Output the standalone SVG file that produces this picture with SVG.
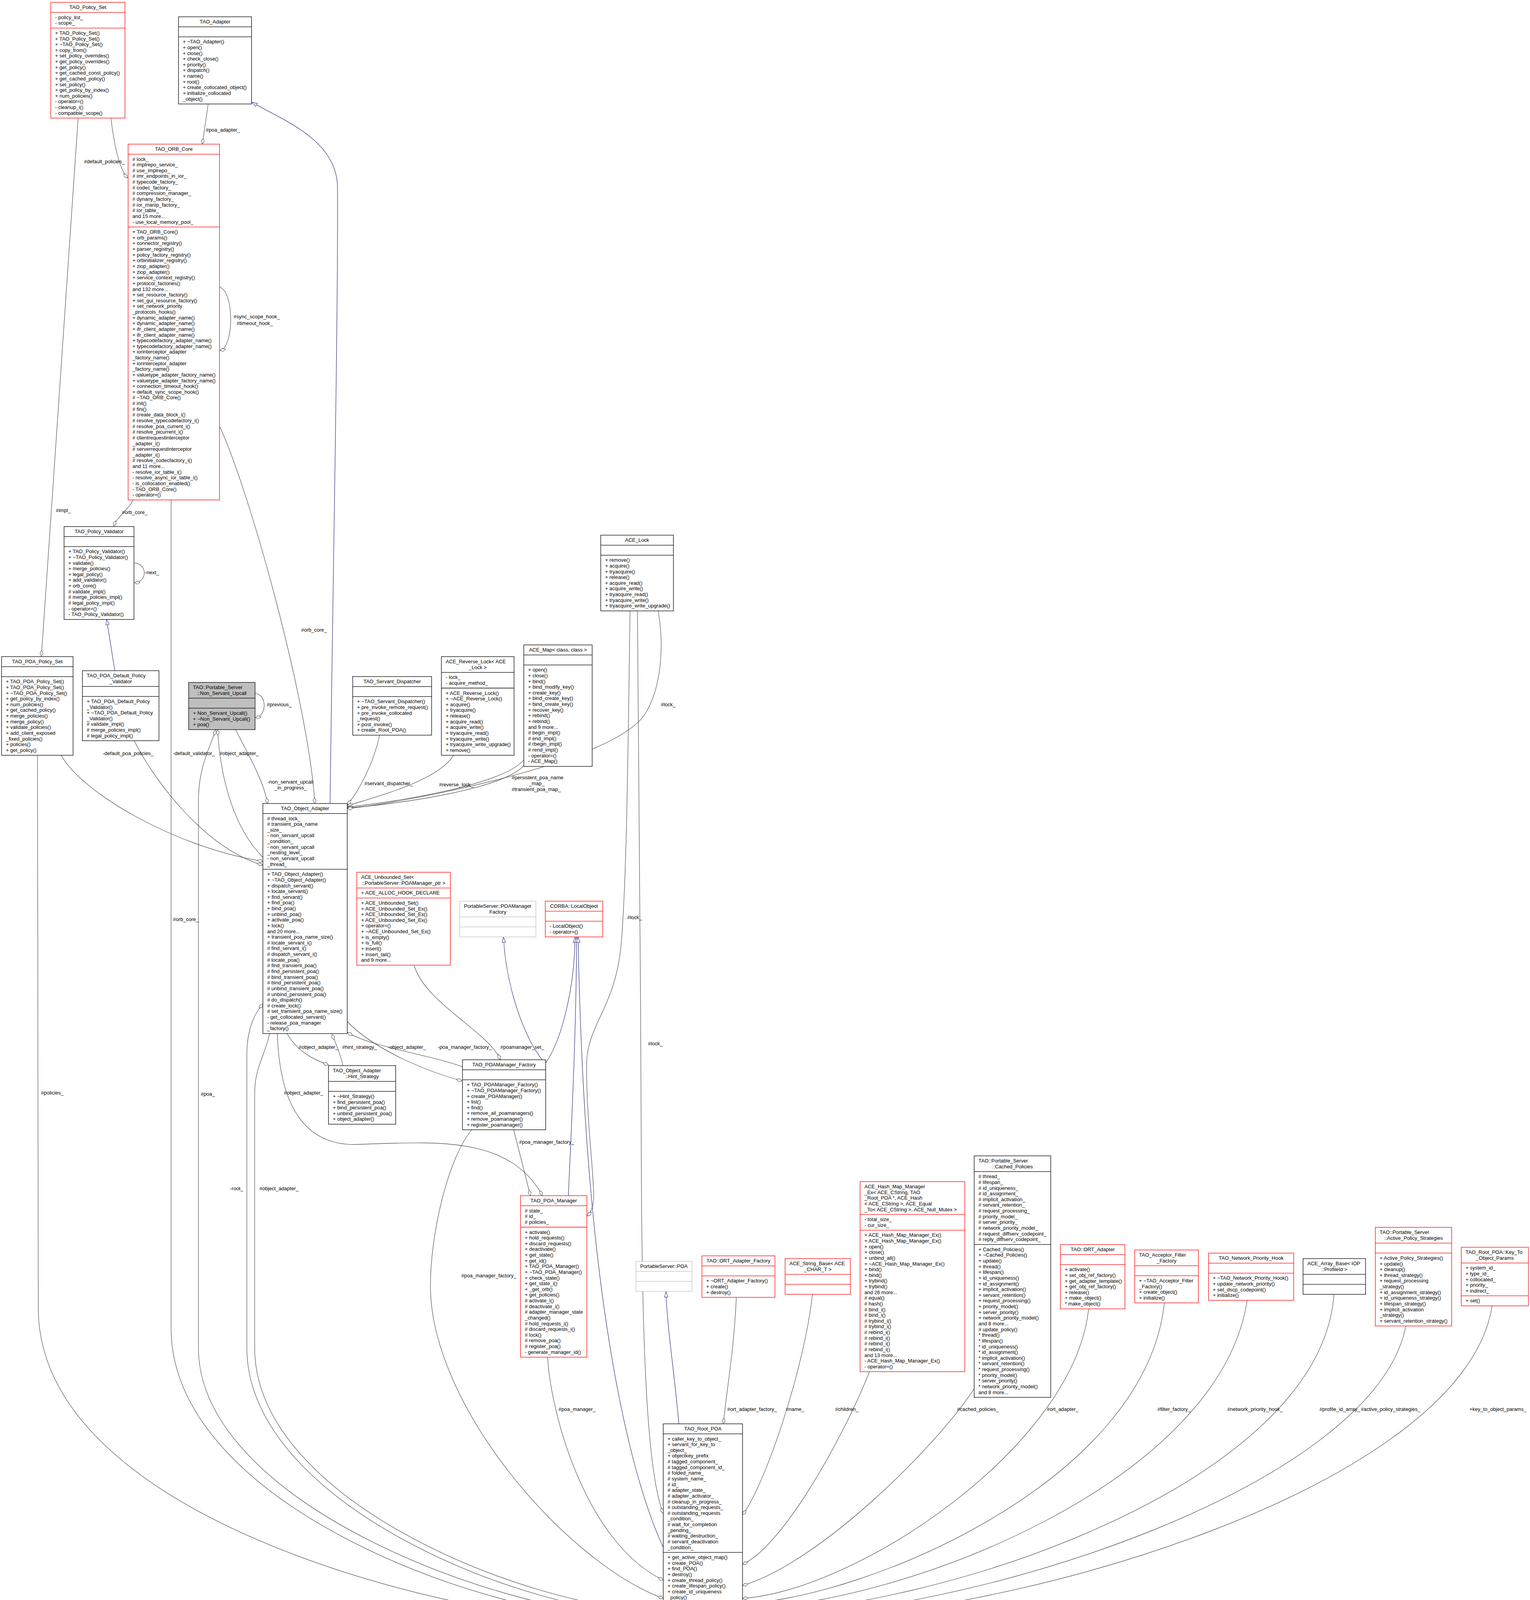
<svg xmlns="http://www.w3.org/2000/svg" width="3917" height="4680" viewBox="0 0 3917 4680">
<style>
text{font-family:"Liberation Sans",Arial,Helvetica,sans-serif;font-size:13px;fill:#000}
.c{text-anchor:middle}
.box{fill:#fff;stroke:#000;stroke-width:1.3}
.red .box{stroke:#ff0000}
.gray .box{stroke:#bfbfbf}
.gfill .box{fill:#bfbfbf}
.sep{fill:none;stroke:#000;stroke-width:1.3}
.red .sep{stroke:#ff0000}
.gray .sep{stroke:#bfbfbf}
.e{fill:none;stroke:#404040;stroke-width:1.1;marker-end:url(#dm)}
.i{fill:none;stroke:#191970;stroke-width:1.1;marker-end:url(#tri)}
</style>
<defs>
<marker id="dm" viewBox="0 0 16 10" markerWidth="16" markerHeight="10" refX="15.5" refY="5" orient="auto" markerUnits="userSpaceOnUse"><path d="M0.5,5 L8,1 L15.5,5 L8,9 Z" fill="#fff" stroke="#404040" stroke-width="1"/></marker>
<marker id="tri" viewBox="0 0 15 10" markerWidth="15" markerHeight="10" refX="14" refY="5" orient="auto" markerUnits="userSpaceOnUse"><path d="M0.5,0.5 L14,5 L0.5,9.5 Z" fill="#fff" stroke="#191970" stroke-width="1"/></marker>
</defs>
<rect width="3917" height="4680" fill="#fff"/>

<g id="edges">
<path class="e" d="M284 302 C292 370 305 430 326 456"/>
<path class="e" d="M200 302 L106 1680"/>
<path class="e" d="M533 266 L518 369"/>
<path class="i" d="M845 2057 C852 1500 866 800 864 480 C863 360 730 310 645 262"/>
<path class="e" d="M562 735 C600 745 600 890 563 897"/>
<path class="e" d="M340 1280 C332 1302 300 1322 291 1347"/>
<path class="e" d="M563 1093 C640 1260 790 1800 806 2057"/>
<path class="e" d="M438 1280 L438 3400 C438 3850 1250 4155 1698 4155"/>
<path class="e" d="M343 1441 C378 1443 378 1490 344 1492"/>
<path class="i" d="M294 1717 L273 1586"/>
<path class="e" d="M157 1934 C210 2030 450 2170 673 2205"/>
<path class="e" d="M344 1897 C390 1990 520 2170 673 2215"/>
<path class="e" d="M673 2195 C600 2120 565 2000 557 1868"/>
<path class="e" d="M603 1868 C640 1940 675 2000 685 2057"/>
<path class="e" d="M653 1775 C684 1778 684 1833 654 1837"/>
<path class="e" d="M1698 4145 C1300 4145 508 3850 508 3450 L508 2050 C508 1960 540 1910 552 1868"/>
<path class="e" d="M972 1882 C955 1960 915 2030 889 2060"/>
<path class="e" d="M1161 1934 C1120 2000 960 2040 889 2063"/>
<path class="e" d="M1341 1945 C1290 2010 1000 2055 889 2066"/>
<path class="e" d="M1345 1955 C1300 2020 1010 2060 889 2068"/>
<path class="e" d="M1685 1564 C1700 1650 1695 1760 1650 1830 C1560 1960 1000 2060 889 2070"/>
<path class="e" d="M1613 1564 C1608 1900 1605 2250 1590 2420 C1575 2580 1505 2620 1502 2720 C1500 2850 1520 3000 1520 3060 C1520 3090 1512 3105 1503 3113"/>
<path class="e" d="M1632 1564 C1636 1900 1640 2500 1642 3000 C1644 3500 1660 3780 1698 3874"/>
<path class="e" d="M1060 2471 C1090 2570 1250 2640 1281 2713"/>
<path class="i" d="M1397 2724 C1340 2660 1295 2520 1289 2399"/>
<path class="i" d="M1397 2721 C1440 2660 1472 2520 1472 2399"/>
<path class="i" d="M1455 3061 C1465 2850 1476 2600 1476 2399"/>
<path class="i" d="M1698 3961 C1660 3880 1500 3500 1480 2399"/>
<path class="e" d="M1184 2731 C1100 2700 950 2680 890 2643"/>
<path class="e" d="M889 2615 C960 2690 1100 2745 1183 2767"/>
<path class="e" d="M878 2728 C872 2700 860 2672 850 2648"/>
<path class="e" d="M735 2646 C760 2690 800 2712 841 2726"/>
<path class="e" d="M710 2646 C715 2800 760 2925 900 2930 C1100 2925 1300 2900 1389 3061"/>
<path class="e" d="M1315 2892 L1358 3061"/>
<path class="e" d="M1208 2892 C1150 2960 1102 3150 1102 3292 C1102 3600 1450 4000 1698 4092"/>
<path class="e" d="M1698 4135 C1350 4135 632 3850 632 3450 L632 2700 C632 2630 655 2590 673 2570"/>
<path class="e" d="M690 2646 C680 2700 652 2730 652 2800 L652 3450 C652 3850 1380 4125 1698 4125"/>
<path class="e" d="M96 1934 L98 3350 C100 3900 1200 4165 1698 4165"/>
<path class="e" d="M1402 3475 C1410 3620 1500 3950 1698 4045"/>
<path class="i" d="M1738 3645 C1725 3500 1708 3400 1705 3307"/>
<path class="e" d="M1885 3321 C1880 3450 1860 3560 1852 3645"/>
<path class="e" d="M2080 3313 C2060 3500 1960 3800 1901 3878"/>
<path class="e" d="M2226 3512 C2150 3700 2000 3960 1901 4005"/>
<path class="e" d="M2494 3555 C2400 3700 2100 4000 1901 4059"/>
<path class="e" d="M2787 3351 C2750 3700 2200 4070 1901 4092"/>
<path class="e" d="M2981 3336 C2930 3800 2200 4095 1901 4105"/>
<path class="e" d="M3193 3329 C3120 3800 2300 4110 1901 4118"/>
<path class="e" d="M3415 3314 C3380 3800 2400 4125 1901 4131"/>
<path class="e" d="M3599 3395 C3520 3800 2500 4140 1901 4144"/>
<path class="e" d="M3820 3343 C3750 3800 2600 4155 1901 4157"/>
<text x="215" y="418">#default_policies_</text>
<text x="143" y="1311">#impl_</text>
<text x="527" y="337">#poa_adapter_</text>
<text x="598" y="815">#sync_scope_hook_<tspan x="606" dy="17">#timeout_hook_</tspan></text>
<text x="312" y="1316">#orb_core_</text>
<text x="371" y="1470">-next_</text>
<text x="771" y="1617">#orb_core_</text>
<text x="443" y="2358">#orb_core_</text>
<text x="683" y="1808">#previous_</text>
<text x="263" y="1933">-default_poa_policies_</text>
<text x="443" y="1933">-default_validator_</text>
<text x="562" y="1933">#object_adapter_</text>
<text x="685" y="2006">-non_servant_upcall<tspan x="703" dy="15">_in_progress_</tspan></text>
<text x="933" y="2010">#servant_dispatcher_</text>
<text x="1124" y="2013">#reverse_lock_</text>
<text x="1310" y="1995">#persistent_poa_name<tspan x="1354" dy="15">_map_</tspan><tspan x="1310" dy="15">#transient_poa_map_</tspan></text>
<text x="1692" y="1808">#lock_</text>
<text x="1606" y="2353">#lock_</text>
<text x="1659" y="2676">#lock_</text>
<text x="105" y="2802">#policies_</text>
<text x="514" y="2805">#poa_</text>
<text x="727" y="2802">#object_adapter_</text>
<text x="765" y="2685">#object_adapter_</text>
<text x="876" y="2685">#hint_strategy_</text>
<text x="993" y="2685">-object_adapter_</text>
<text x="1121" y="2685">-poa_manager_factory_</text>
<text x="1281" y="2685">#poamanager_set_</text>
<text x="1329" y="2928">#poa_manager_factory_</text>
<text x="1181" y="3270">#poa_manager_factory_</text>
<text x="589" y="3047">-root_</text>
<text x="664" y="3047">#object_adapter_</text>
<text x="1430" y="3612">#poa_manager_</text>
<text x="1862" y="3612">#ort_adapter_factory_</text>
<text x="2012" y="3612">#name_</text>
<text x="2138" y="3612">#children_</text>
<text x="2450" y="3612">#cached_policies_</text>
<text x="2680" y="3612">#ort_adapter_</text>
<text x="2963" y="3612">#filter_factory_</text>
<text x="3142" y="3612">#network_priority_hook_</text>
<text x="3378" y="3612">#profile_id_array_</text>
<text x="3484" y="3612">#active_policy_strategies_</text>
<text x="3762" y="3612">+key_to_object_params_</text>
</g>

<g id="TAO_Policy_Set" class="red">
<rect class="box" x="130" y="6" width="190" height="296.3"/>
<path class="sep" d="M130 31.6H320M130 71.9H320"/>
<text class="c" x="225" y="23">TAO_Policy_Set</text>
<text x="141" y="48.6">- policy_list_<tspan x="141" dy="14.63">- scope_</tspan></text>
<text x="141" y="88.9">+ TAO_Policy_Set()<tspan x="141" dy="14.63">+ TAO_Policy_Set()</tspan><tspan x="141" dy="14.63">+ ~TAO_Policy_Set()</tspan><tspan x="141" dy="14.63">+ copy_from()</tspan><tspan x="141" dy="14.63">+ set_policy_overrides()</tspan><tspan x="141" dy="14.63">+ get_policy_overrides()</tspan><tspan x="141" dy="14.63">+ get_policy()</tspan><tspan x="141" dy="14.63">+ get_cached_const_policy()</tspan><tspan x="141" dy="14.63">+ get_cached_policy()</tspan><tspan x="141" dy="14.63">+ set_policy()</tspan><tspan x="141" dy="14.63">+ get_policy_by_index()</tspan><tspan x="141" dy="14.63">+ num_policies()</tspan><tspan x="141" dy="14.63">- operator=()</tspan><tspan x="141" dy="14.63">- cleanup_i()</tspan><tspan x="141" dy="14.63">- compatible_scope()</tspan></text>
</g>

<g id="TAO_Adapter">
<rect class="box" x="457" y="43" width="187" height="223.2"/>
<path class="sep" d="M457 68.6H644M457 94.3H644"/>
<text class="c" x="550.5" y="60">TAO_Adapter</text>
<text x="468" y="111.3">+ ~TAO_Adapter()<tspan x="468" dy="14.63">+ open()</tspan><tspan x="468" dy="14.63">+ close()</tspan><tspan x="468" dy="14.63">+ check_close()</tspan><tspan x="468" dy="14.63">+ priority()</tspan><tspan x="468" dy="14.63">+ dispatch()</tspan><tspan x="468" dy="14.63">+ name()</tspan><tspan x="468" dy="14.63">+ root()</tspan><tspan x="468" dy="14.63">+ create_collocated_object()</tspan><tspan x="468" dy="14.63">+ initialize_collocated</tspan><tspan x="468" dy="14.63">_object()</tspan></text>
</g>

<g id="TAO_ORB_Core" class="red">
<rect class="box" x="328" y="369" width="234" height="910.8"/>
<path class="sep" d="M328 394.6H562M328 581.2H562"/>
<text class="c" x="445" y="386">TAO_ORB_Core</text>
<text x="339" y="411.6"># lock_<tspan x="339" dy="14.63"># implrepo_service_</tspan><tspan x="339" dy="14.63"># use_implrepo_</tspan><tspan x="339" dy="14.63"># imr_endpoints_in_ior_</tspan><tspan x="339" dy="14.63"># typecode_factory_</tspan><tspan x="339" dy="14.63"># codec_factory_</tspan><tspan x="339" dy="14.63"># compression_manager_</tspan><tspan x="339" dy="14.63"># dynany_factory_</tspan><tspan x="339" dy="14.63"># ior_manip_factory_</tspan><tspan x="339" dy="14.63"># ior_table_</tspan><tspan x="339" dy="14.63">and 15 more...</tspan><tspan x="339" dy="14.63">- use_local_memory_pool_</tspan></text>
<text x="339" y="598.2">+ TAO_ORB_Core()<tspan x="339" dy="14.63">+ orb_params()</tspan><tspan x="339" dy="14.63">+ connector_registry()</tspan><tspan x="339" dy="14.63">+ parser_registry()</tspan><tspan x="339" dy="14.63">+ policy_factory_registry()</tspan><tspan x="339" dy="14.63">+ orbinitializer_registry()</tspan><tspan x="339" dy="14.63">+ ziop_adapter()</tspan><tspan x="339" dy="14.63">+ ziop_adapter()</tspan><tspan x="339" dy="14.63">+ service_context_registry()</tspan><tspan x="339" dy="14.63">+ protocol_factories()</tspan><tspan x="339" dy="14.63">and 132 more...</tspan><tspan x="339" dy="14.63">+ set_resource_factory()</tspan><tspan x="339" dy="14.63">+ set_gui_resource_factory()</tspan><tspan x="339" dy="14.63">+ set_network_priority</tspan><tspan x="339" dy="14.63">_protocols_hooks()</tspan><tspan x="339" dy="14.63">+ dynamic_adapter_name()</tspan><tspan x="339" dy="14.63">+ dynamic_adapter_name()</tspan><tspan x="339" dy="14.63">+ ifr_client_adapter_name()</tspan><tspan x="339" dy="14.63">+ ifr_client_adapter_name()</tspan><tspan x="339" dy="14.63">+ typecodefactory_adapter_name()</tspan><tspan x="339" dy="14.63">+ typecodefactory_adapter_name()</tspan><tspan x="339" dy="14.63">+ iorinterceptor_adapter</tspan><tspan x="339" dy="14.63">_factory_name()</tspan><tspan x="339" dy="14.63">+ iorinterceptor_adapter</tspan><tspan x="339" dy="14.63">_factory_name()</tspan><tspan x="339" dy="14.63">+ valuetype_adapter_factory_name()</tspan><tspan x="339" dy="14.63">+ valuetype_adapter_factory_name()</tspan><tspan x="339" dy="14.63">+ connection_timeout_hook()</tspan><tspan x="339" dy="14.63">+ default_sync_scope_hook()</tspan><tspan x="339" dy="14.63"># ~TAO_ORB_Core()</tspan><tspan x="339" dy="14.63"># init()</tspan><tspan x="339" dy="14.63"># fini()</tspan><tspan x="339" dy="14.63"># create_data_block_i()</tspan><tspan x="339" dy="14.63"># resolve_typecodefactory_i()</tspan><tspan x="339" dy="14.63"># resolve_poa_current_i()</tspan><tspan x="339" dy="14.63"># resolve_picurrent_i()</tspan><tspan x="339" dy="14.63"># clientrequestinterceptor</tspan><tspan x="339" dy="14.63">_adapter_i()</tspan><tspan x="339" dy="14.63"># serverrequestinterceptor</tspan><tspan x="339" dy="14.63">_adapter_i()</tspan><tspan x="339" dy="14.63"># resolve_codecfactory_i()</tspan><tspan x="339" dy="14.63">and 11 more...</tspan><tspan x="339" dy="14.63">- resolve_ior_table_i()</tspan><tspan x="339" dy="14.63">- resolve_async_ior_table_i()</tspan><tspan x="339" dy="14.63">- is_collocation_enabled()</tspan><tspan x="339" dy="14.63">- TAO_ORB_Core()</tspan><tspan x="339" dy="14.63">- operator=()</tspan></text>
</g>

<g id="TAO_Policy_Validator">
<rect class="box" x="164" y="1348" width="179" height="237.8"/>
<path class="sep" d="M164 1373.6H343M164 1399.3H343"/>
<text class="c" x="253.5" y="1365">TAO_Policy_Validator</text>
<text x="175" y="1416.3">+ TAO_Policy_Validator()<tspan x="175" dy="14.63">+ ~TAO_Policy_Validator()</tspan><tspan x="175" dy="14.63">+ validate()</tspan><tspan x="175" dy="14.63">+ merge_policies()</tspan><tspan x="175" dy="14.63">+ legal_policy()</tspan><tspan x="175" dy="14.63">+ add_validator()</tspan><tspan x="175" dy="14.63">+ orb_core()</tspan><tspan x="175" dy="14.63"># validate_impl()</tspan><tspan x="175" dy="14.63"># merge_policies_impl()</tspan><tspan x="175" dy="14.63"># legal_policy_impl()</tspan><tspan x="175" dy="14.63">- operator=()</tspan><tspan x="175" dy="14.63">- TAO_Policy_Validator()</tspan></text>
</g>

<g id="TAO_POA_Policy_Set">
<rect class="box" x="4" y="1681" width="183" height="252.5"/>
<path class="sep" d="M4 1706.6H187M4 1732.3H187"/>
<text class="c" x="95.5" y="1698">TAO_POA_Policy_Set</text>
<text x="15" y="1749.3">+ TAO_POA_Policy_Set()<tspan x="15" dy="14.63">+ TAO_POA_Policy_Set()</tspan><tspan x="15" dy="14.63">+ ~TAO_POA_Policy_Set()</tspan><tspan x="15" dy="14.63">+ get_policy_by_index()</tspan><tspan x="15" dy="14.63">+ num_policies()</tspan><tspan x="15" dy="14.63">+ get_cached_policy()</tspan><tspan x="15" dy="14.63">+ merge_policies()</tspan><tspan x="15" dy="14.63">+ merge_policy()</tspan><tspan x="15" dy="14.63">+ validate_policies()</tspan><tspan x="15" dy="14.63">+ add_client_exposed</tspan><tspan x="15" dy="14.63">_fixed_policies()</tspan><tspan x="15" dy="14.63">+ policies()</tspan><tspan x="15" dy="14.63">+ get_policy()</tspan></text>
</g>

<g id="TAO_POA_Default_Policy_Validator">
<rect class="box" x="211" y="1717" width="196" height="179.3"/>
<path class="sep" d="M211 1757.3H407M211 1782.9H407"/>
<text x="222" y="1734">TAO_POA_Default_Policy</text>
<text class="c" x="309" y="1748.6">_Validator</text>
<text x="222" y="1799.9">+ TAO_POA_Default_Policy<tspan x="222" dy="14.63">_Validator()</tspan><tspan x="222" dy="14.63">+ ~TAO_POA_Default_Policy</tspan><tspan x="222" dy="14.63">_Validator()</tspan><tspan x="222" dy="14.63"># validate_impl()</tspan><tspan x="222" dy="14.63"># merge_policies_impl()</tspan><tspan x="222" dy="14.63"># legal_policy_impl()</tspan></text>
</g>

<g id="Non_Servant_Upcall" class="gfill">
<rect class="box" x="483" y="1747" width="170" height="120.8"/>
<path class="sep" d="M483 1787.3H653M483 1812.9H653"/>
<text x="494" y="1764">TAO::Portable_Server</text>
<text class="c" x="568" y="1778.6">::Non_Servant_Upcall</text>
<text x="494" y="1829.9">+ Non_Servant_Upcall()<tspan x="494" dy="14.63">+ ~Non_Servant_Upcall()</tspan><tspan x="494" dy="14.63">+ poa()</tspan></text>
</g>

<g id="TAO_Servant_Dispatcher">
<rect class="box" x="903" y="1732" width="202" height="150"/>
<path class="sep" d="M903 1757.6H1105M903 1783.3H1105"/>
<text class="c" x="1004" y="1749">TAO_Servant_Dispatcher</text>
<text x="914" y="1800.3">+ ~TAO_Servant_Dispatcher()<tspan x="914" dy="14.63">+ pre_invoke_remote_request()</tspan><tspan x="914" dy="14.63">+ pre_invoke_collocated</tspan><tspan x="914" dy="14.63">_request()</tspan><tspan x="914" dy="14.63">+ post_invoke()</tspan><tspan x="914" dy="14.63">+ create_Root_POA()</tspan></text>
</g>

<g id="ACE_Reverse_Lock">
<rect class="box" x="1130" y="1681" width="186" height="252.5"/>
<path class="sep" d="M1130 1721.3H1316M1130 1761.5H1316"/>
<text x="1141" y="1698">ACE_Reverse_Lock&lt; ACE</text>
<text class="c" x="1223" y="1712.6">_Lock &gt;</text>
<text x="1141" y="1738.3">- lock_<tspan x="1141" dy="14.63">- acquire_method_</tspan></text>
<text x="1141" y="1778.5">+ ACE_Reverse_Lock()<tspan x="1141" dy="14.63">+ ~ACE_Reverse_Lock()</tspan><tspan x="1141" dy="14.63">+ acquire()</tspan><tspan x="1141" dy="14.63">+ tryacquire()</tspan><tspan x="1141" dy="14.63">+ release()</tspan><tspan x="1141" dy="14.63">+ acquire_read()</tspan><tspan x="1141" dy="14.63">+ acquire_write()</tspan><tspan x="1141" dy="14.63">+ tryacquire_read()</tspan><tspan x="1141" dy="14.63">+ tryacquire_write()</tspan><tspan x="1141" dy="14.63">+ tryacquire_write_upgrade()</tspan><tspan x="1141" dy="14.63">+ remove()</tspan></text>
</g>

<g id="ACE_Map">
<rect class="box" x="1341" y="1651" width="175" height="311"/>
<path class="sep" d="M1341 1676.6H1516M1341 1702.3H1516"/>
<text class="c" x="1428.5" y="1668">ACE_Map&lt; class, class &gt;</text>
<text x="1352" y="1719.3">+ open()<tspan x="1352" dy="14.63">+ close()</tspan><tspan x="1352" dy="14.63">+ bind()</tspan><tspan x="1352" dy="14.63">+ bind_modify_key()</tspan><tspan x="1352" dy="14.63">+ create_key()</tspan><tspan x="1352" dy="14.63">+ bind_create_key()</tspan><tspan x="1352" dy="14.63">+ bind_create_key()</tspan><tspan x="1352" dy="14.63">+ recover_key()</tspan><tspan x="1352" dy="14.63">+ rebind()</tspan><tspan x="1352" dy="14.63">+ rebind()</tspan><tspan x="1352" dy="14.63">and 9 more...</tspan><tspan x="1352" dy="14.63"># begin_impl()</tspan><tspan x="1352" dy="14.63"># end_impl()</tspan><tspan x="1352" dy="14.63"># rbegin_impl()</tspan><tspan x="1352" dy="14.63"># rend_impl()</tspan><tspan x="1352" dy="14.63">- operator=()</tspan><tspan x="1352" dy="14.63">- ACE_Map()</tspan></text>
</g>

<g id="ACE_Lock">
<rect class="box" x="1538" y="1370" width="186" height="193.9"/>
<path class="sep" d="M1538 1395.6H1724M1538 1421.3H1724"/>
<text class="c" x="1631" y="1387">ACE_Lock</text>
<text x="1549" y="1438.3">+ remove()<tspan x="1549" dy="14.63">+ acquire()</tspan><tspan x="1549" dy="14.63">+ tryacquire()</tspan><tspan x="1549" dy="14.63">+ release()</tspan><tspan x="1549" dy="14.63">+ acquire_read()</tspan><tspan x="1549" dy="14.63">+ acquire_write()</tspan><tspan x="1549" dy="14.63">+ tryacquire_read()</tspan><tspan x="1549" dy="14.63">+ tryacquire_write()</tspan><tspan x="1549" dy="14.63">+ tryacquire_write_upgrade()</tspan></text>
</g>

<g id="TAO_Object_Adapter">
<rect class="box" x="673" y="2057" width="216" height="588.9"/>
<path class="sep" d="M673 2082.6H889M673 2225.3H889"/>
<text class="c" x="781" y="2074">TAO_Object_Adapter</text>
<text x="684" y="2099.6"># thread_lock_<tspan x="684" dy="14.63"># transient_poa_name</tspan><tspan x="684" dy="14.63">_size_</tspan><tspan x="684" dy="14.63">- non_servant_upcall</tspan><tspan x="684" dy="14.63">_condition_</tspan><tspan x="684" dy="14.63">- non_servant_upcall</tspan><tspan x="684" dy="14.63">_nesting_level_</tspan><tspan x="684" dy="14.63">- non_servant_upcall</tspan><tspan x="684" dy="14.63">_thread_</tspan></text>
<text x="684" y="2242.3">+ TAO_Object_Adapter()<tspan x="684" dy="14.63">+ ~TAO_Object_Adapter()</tspan><tspan x="684" dy="14.63">+ dispatch_servant()</tspan><tspan x="684" dy="14.63">+ locate_servant()</tspan><tspan x="684" dy="14.63">+ find_servant()</tspan><tspan x="684" dy="14.63">+ find_poa()</tspan><tspan x="684" dy="14.63">+ bind_poa()</tspan><tspan x="684" dy="14.63">+ unbind_poa()</tspan><tspan x="684" dy="14.63">+ activate_poa()</tspan><tspan x="684" dy="14.63">+ lock()</tspan><tspan x="684" dy="14.63">and 20 more...</tspan><tspan x="684" dy="14.63">+ transient_poa_name_size()</tspan><tspan x="684" dy="14.63"># locate_servant_i()</tspan><tspan x="684" dy="14.63"># find_servant_i()</tspan><tspan x="684" dy="14.63"># dispatch_servant_i()</tspan><tspan x="684" dy="14.63"># locate_poa()</tspan><tspan x="684" dy="14.63"># find_transient_poa()</tspan><tspan x="684" dy="14.63"># find_persistent_poa()</tspan><tspan x="684" dy="14.63"># bind_transient_poa()</tspan><tspan x="684" dy="14.63"># bind_persistent_poa()</tspan><tspan x="684" dy="14.63"># unbind_transient_poa()</tspan><tspan x="684" dy="14.63"># unbind_persistent_poa()</tspan><tspan x="684" dy="14.63"># do_dispatch()</tspan><tspan x="684" dy="14.63"># create_lock()</tspan><tspan x="684" dy="14.63"># set_transient_poa_name_size()</tspan><tspan x="684" dy="14.63">- get_collocated_servant()</tspan><tspan x="684" dy="14.63">- release_poa_manager</tspan><tspan x="684" dy="14.63">_factory()</tspan></text>
</g>

<g id="ACE_Unbounded_Set" class="red">
<rect class="box" x="913.5" y="2233" width="239.5" height="237.8"/>
<path class="sep" d="M913.5 2273.3H1153M913.5 2298.9H1153"/>
<text x="924.5" y="2250">ACE_Unbounded_Set&lt;</text>
<text class="c" x="1033.3" y="2264.6">::PortableServer::POAManager_ptr &gt;</text>
<text x="924.5" y="2290.3">+ ACE_ALLOC_HOOK_DECLARE</text>
<text x="924.5" y="2315.9">+ ACE_Unbounded_Set()<tspan x="924.5" dy="14.63">+ ACE_Unbounded_Set_Ex()</tspan><tspan x="924.5" dy="14.63">+ ACE_Unbounded_Set_Ex()</tspan><tspan x="924.5" dy="14.63">+ ACE_Unbounded_Set_Ex()</tspan><tspan x="924.5" dy="14.63">+ operator=()</tspan><tspan x="924.5" dy="14.63">+ ~ACE_Unbounded_Set_Ex()</tspan><tspan x="924.5" dy="14.63">+ is_empty()</tspan><tspan x="924.5" dy="14.63">+ is_full()</tspan><tspan x="924.5" dy="14.63">+ insert()</tspan><tspan x="924.5" dy="14.63">+ insert_tail()</tspan><tspan x="924.5" dy="14.63">and 9 more...</tspan></text>
</g>

<g id="PortableServer_POAManagerFactory" class="gray">
<rect class="box" x="1177" y="2307" width="195" height="91.5"/>
<path class="sep" d="M1177 2347.3H1372M1177 2372.9H1372"/>
<text x="1188" y="2324">PortableServer::POAManager</text>
<text class="c" x="1274.5" y="2338.6">Factory</text>
</g>

<g id="CORBA_LocalObject" class="red">
<rect class="box" x="1396" y="2307" width="147" height="91.5"/>
<path class="sep" d="M1396 2332.6H1543M1396 2358.3H1543"/>
<text class="c" x="1469.5" y="2324">CORBA::LocalObject</text>
<text x="1407" y="2375.3">- LocalObject()<tspan x="1407" dy="14.63">- operator=()</tspan></text>
</g>

<g id="Hint_Strategy">
<rect class="box" x="841" y="2728" width="172" height="150"/>
<path class="sep" d="M841 2768.3H1013M841 2793.9H1013"/>
<text x="852" y="2745">TAO_Object_Adapter</text>
<text class="c" x="927" y="2759.6">::Hint_Strategy</text>
<text x="852" y="2810.9">+ ~Hint_Strategy()<tspan x="852" dy="14.63">+ find_persistent_poa()</tspan><tspan x="852" dy="14.63">+ bind_persistent_poa()</tspan><tspan x="852" dy="14.63">+ unbind_persistent_poa()</tspan><tspan x="852" dy="14.63">+ object_adapter()</tspan></text>
</g>

<g id="TAO_POAManager_Factory">
<rect class="box" x="1184" y="2713" width="213" height="179.3"/>
<path class="sep" d="M1184 2738.6H1397M1184 2764.3H1397"/>
<text class="c" x="1290.5" y="2730">TAO_POAManager_Factory</text>
<text x="1195" y="2781.3">+ TAO_POAManager_Factory()<tspan x="1195" dy="14.63">+ ~TAO_POAManager_Factory()</tspan><tspan x="1195" dy="14.63">+ create_POAManager()</tspan><tspan x="1195" dy="14.63">+ list()</tspan><tspan x="1195" dy="14.63">+ find()</tspan><tspan x="1195" dy="14.63">+ remove_all_poamanagers()</tspan><tspan x="1195" dy="14.63">+ remove_poamanager()</tspan><tspan x="1195" dy="14.63">+ register_poamanager()</tspan></text>
</g>

<g id="TAO_POA_Manager" class="red">
<rect class="box" x="1332.5" y="3061" width="170" height="413.4"/>
<path class="sep" d="M1332.5 3086.6H1502.5M1332.5 3141.5H1502.5"/>
<text class="c" x="1417.5" y="3078">TAO_POA_Manager</text>
<text x="1343.5" y="3103.6"># state_<tspan x="1343.5" dy="14.63"># id_</tspan><tspan x="1343.5" dy="14.63"># policies_</tspan></text>
<text x="1343.5" y="3158.5">+ activate()<tspan x="1343.5" dy="14.63">+ hold_requests()</tspan><tspan x="1343.5" dy="14.63">+ discard_requests()</tspan><tspan x="1343.5" dy="14.63">+ deactivate()</tspan><tspan x="1343.5" dy="14.63">+ get_state()</tspan><tspan x="1343.5" dy="14.63">+ get_id()</tspan><tspan x="1343.5" dy="14.63">+ TAO_POA_Manager()</tspan><tspan x="1343.5" dy="14.63">+ ~TAO_POA_Manager()</tspan><tspan x="1343.5" dy="14.63">+ check_state()</tspan><tspan x="1343.5" dy="14.63">+ get_state_i()</tspan><tspan x="1343.5" dy="14.63">+ _get_orb()</tspan><tspan x="1343.5" dy="14.63">+ get_policies()</tspan><tspan x="1343.5" dy="14.63"># activate_i()</tspan><tspan x="1343.5" dy="14.63"># deactivate_i()</tspan><tspan x="1343.5" dy="14.63"># adapter_manager_state</tspan><tspan x="1343.5" dy="14.63">_changed()</tspan><tspan x="1343.5" dy="14.63"># hold_requests_i()</tspan><tspan x="1343.5" dy="14.63"># discard_requests_i()</tspan><tspan x="1343.5" dy="14.63"># lock()</tspan><tspan x="1343.5" dy="14.63"># remove_poa()</tspan><tspan x="1343.5" dy="14.63"># register_poa()</tspan><tspan x="1343.5" dy="14.63">- generate_manager_id()</tspan></text>
</g>

<g id="ACE_Hash_Map_Manager_Ex" class="red">
<rect class="box" x="2202" y="3025" width="268" height="486.5"/>
<path class="sep" d="M2202 3109.2H2470M2202 3149.4H2470"/>
<text x="2213" y="3042">ACE_Hash_Map_Manager<tspan x="2213" dy="14.63">_Ex&lt; ACE_CString, TAO</tspan><tspan x="2213" dy="14.63">_Root_POA *, ACE_Hash</tspan><tspan x="2213" dy="14.63">&lt; ACE_CString &gt;, ACE_Equal</tspan><tspan x="2213" dy="14.63">_To&lt; ACE_CString &gt;, ACE_Null_Mutex &gt;</tspan></text>
<text x="2213" y="3126.2">- total_size_<tspan x="2213" dy="14.63">- cur_size_</tspan></text>
<text x="2213" y="3166.4">+ ACE_Hash_Map_Manager_Ex()<tspan x="2213" dy="14.63">+ ACE_Hash_Map_Manager_Ex()</tspan><tspan x="2213" dy="14.63">+ open()</tspan><tspan x="2213" dy="14.63">+ close()</tspan><tspan x="2213" dy="14.63">+ unbind_all()</tspan><tspan x="2213" dy="14.63">+ ~ACE_Hash_Map_Manager_Ex()</tspan><tspan x="2213" dy="14.63">+ bind()</tspan><tspan x="2213" dy="14.63">+ bind()</tspan><tspan x="2213" dy="14.63">+ trybind()</tspan><tspan x="2213" dy="14.63">+ trybind()</tspan><tspan x="2213" dy="14.63">and 26 more...</tspan><tspan x="2213" dy="14.63"># equal()</tspan><tspan x="2213" dy="14.63"># hash()</tspan><tspan x="2213" dy="14.63"># bind_i()</tspan><tspan x="2213" dy="14.63"># bind_i()</tspan><tspan x="2213" dy="14.63"># trybind_i()</tspan><tspan x="2213" dy="14.63"># trybind_i()</tspan><tspan x="2213" dy="14.63"># rebind_i()</tspan><tspan x="2213" dy="14.63"># rebind_i()</tspan><tspan x="2213" dy="14.63"># rebind_i()</tspan><tspan x="2213" dy="14.63"># rebind_i()</tspan><tspan x="2213" dy="14.63">and 13 more...</tspan><tspan x="2213" dy="14.63">- ACE_Hash_Map_Manager_Ex()</tspan><tspan x="2213" dy="14.63">- operator=()</tspan></text>
</g>

<g id="Cached_Policies">
<rect class="box" x="2494" y="2959" width="196" height="618.2"/>
<path class="sep" d="M2494 2999.3H2690M2494 3185.8H2690"/>
<text x="2505" y="2976">TAO::Portable_Server</text>
<text class="c" x="2592" y="2990.6">::Cached_Policies</text>
<text x="2505" y="3016.3"># thread_<tspan x="2505" dy="14.63"># lifespan_</tspan><tspan x="2505" dy="14.63"># id_uniqueness_</tspan><tspan x="2505" dy="14.63"># id_assignment_</tspan><tspan x="2505" dy="14.63"># implicit_activation_</tspan><tspan x="2505" dy="14.63"># servant_retention_</tspan><tspan x="2505" dy="14.63"># request_processing_</tspan><tspan x="2505" dy="14.63"># priority_model_</tspan><tspan x="2505" dy="14.63"># server_priority_</tspan><tspan x="2505" dy="14.63"># network_priority_model_</tspan><tspan x="2505" dy="14.63"># request_diffserv_codepoint_</tspan><tspan x="2505" dy="14.63"># reply_diffserv_codepoint_</tspan></text>
<text x="2505" y="3202.8">+ Cached_Policies()<tspan x="2505" dy="14.63">+ ~Cached_Policies()</tspan><tspan x="2505" dy="14.63">+ update()</tspan><tspan x="2505" dy="14.63">+ thread()</tspan><tspan x="2505" dy="14.63">+ lifespan()</tspan><tspan x="2505" dy="14.63">+ id_uniqueness()</tspan><tspan x="2505" dy="14.63">+ id_assignment()</tspan><tspan x="2505" dy="14.63">+ implicit_activation()</tspan><tspan x="2505" dy="14.63">+ servant_retention()</tspan><tspan x="2505" dy="14.63">+ request_processing()</tspan><tspan x="2505" dy="14.63">+ priority_model()</tspan><tspan x="2505" dy="14.63">+ server_priority()</tspan><tspan x="2505" dy="14.63">+ network_priority_model()</tspan><tspan x="2505" dy="14.63">and 8 more...</tspan><tspan x="2505" dy="14.63"># update_policy()</tspan><tspan x="2505" dy="14.63">* thread()</tspan><tspan x="2505" dy="14.63">* lifespan()</tspan><tspan x="2505" dy="14.63">* id_uniqueness()</tspan><tspan x="2505" dy="14.63">* id_assignment()</tspan><tspan x="2505" dy="14.63">* implicit_activation()</tspan><tspan x="2505" dy="14.63">* servant_retention()</tspan><tspan x="2505" dy="14.63">* request_processing()</tspan><tspan x="2505" dy="14.63">* priority_model()</tspan><tspan x="2505" dy="14.63">* server_priority()</tspan><tspan x="2505" dy="14.63">* network_priority_model()</tspan><tspan x="2505" dy="14.63">and 8 more...</tspan></text>
</g>

<g id="PortableServer_POA" class="gray">
<rect class="box" x="1628" y="3229" width="143.5" height="76.9"/>
<path class="sep" d="M1628 3254.6H1771.5M1628 3280.3H1771.5"/>
<text class="c" x="1699.8" y="3246">PortableServer::POA</text>
</g>

<g id="ORT_Adapter_Factory" class="red">
<rect class="box" x="1797" y="3215" width="187" height="106.2"/>
<path class="sep" d="M1797 3240.6H1984M1797 3266.3H1984"/>
<text class="c" x="1890.5" y="3232">TAO::ORT_Adapter_Factory</text>
<text x="1808" y="3283.3">+ ~ORT_Adapter_Factory()<tspan x="1808" dy="14.63">+ create()</tspan><tspan x="1808" dy="14.63">+ destroy()</tspan></text>
</g>

<g id="ACE_String_Base" class="red">
<rect class="box" x="2010" y="3222" width="167" height="91.5"/>
<path class="sep" d="M2010 3262.3H2177M2010 3287.9H2177"/>
<text x="2021" y="3239">ACE_String_Base&lt; ACE</text>
<text class="c" x="2093.5" y="3253.6">_CHAR_T &gt;</text>
</g>

<g id="ORT_Adapter" class="red">
<rect class="box" x="2715" y="3186" width="165" height="164.7"/>
<path class="sep" d="M2715 3211.6H2880M2715 3237.3H2880"/>
<text class="c" x="2797.5" y="3203">TAO::ORT_Adapter</text>
<text x="2726" y="3254.3">+ activate()<tspan x="2726" dy="14.63">+ set_obj_ref_factory()</tspan><tspan x="2726" dy="14.63">+ get_adapter_template()</tspan><tspan x="2726" dy="14.63">+ get_obj_ref_factory()</tspan><tspan x="2726" dy="14.63">+ release()</tspan><tspan x="2726" dy="14.63">+ make_object()</tspan><tspan x="2726" dy="14.63">* make_object()</tspan></text>
</g>

<g id="TAO_Acceptor_Filter_Factory" class="red">
<rect class="box" x="2905" y="3200" width="163" height="135.4"/>
<path class="sep" d="M2905 3240.3H3068M2905 3265.9H3068"/>
<text x="2916" y="3217">TAO_Acceptor_Filter</text>
<text class="c" x="2986.5" y="3231.6">_Factory</text>
<text x="2916" y="3282.9">+ ~TAO_Acceptor_Filter<tspan x="2916" dy="14.63">_Factory()</tspan><tspan x="2916" dy="14.63">+ create_object()</tspan><tspan x="2916" dy="14.63">+ initialize()</tspan></text>
</g>

<g id="TAO_Network_Priority_Hook" class="red">
<rect class="box" x="3094" y="3208" width="218" height="120.8"/>
<path class="sep" d="M3094 3233.6H3312M3094 3259.3H3312"/>
<text class="c" x="3203" y="3225">TAO_Network_Priority_Hook</text>
<text x="3105" y="3276.3">+ ~TAO_Network_Priority_Hook()<tspan x="3105" dy="14.63">+ update_network_priority()</tspan><tspan x="3105" dy="14.63">+ set_dscp_codepoint()</tspan><tspan x="3105" dy="14.63">+ initialize()</tspan></text>
</g>

<g id="ACE_Array_Base">
<rect class="box" x="3336" y="3222" width="160" height="91.5"/>
<path class="sep" d="M3336 3262.3H3496M3336 3287.9H3496"/>
<text x="3347" y="3239">ACE_Array_Base&lt; IOP</text>
<text class="c" x="3416" y="3253.6">::ProfileId &gt;</text>
</g>

<g id="Active_Policy_Strategies" class="red">
<rect class="box" x="3521" y="3142" width="195.5" height="252.5"/>
<path class="sep" d="M3521 3182.3H3716.5M3521 3207.9H3716.5"/>
<text x="3532" y="3159">TAO::Portable_Server</text>
<text class="c" x="3618.8" y="3173.6">::Active_Policy_Strategies</text>
<text x="3532" y="3224.9">+ Active_Policy_Strategies()<tspan x="3532" dy="14.63">+ update()</tspan><tspan x="3532" dy="14.63">+ cleanup()</tspan><tspan x="3532" dy="14.63">+ thread_strategy()</tspan><tspan x="3532" dy="14.63">+ request_processing</tspan><tspan x="3532" dy="14.63">_strategy()</tspan><tspan x="3532" dy="14.63">+ id_assignment_strategy()</tspan><tspan x="3532" dy="14.63">+ id_uniqueness_strategy()</tspan><tspan x="3532" dy="14.63">+ lifespan_strategy()</tspan><tspan x="3532" dy="14.63">+ implicit_activation</tspan><tspan x="3532" dy="14.63">_strategy()</tspan><tspan x="3532" dy="14.63">+ servant_retention_strategy()</tspan></text>
</g>

<g id="Key_To_Object_Params" class="red">
<rect class="box" x="3741" y="3193" width="172" height="150"/>
<path class="sep" d="M3741 3233.3H3913M3741 3317.4H3913"/>
<text x="3752" y="3210">TAO_Root_POA::Key_To</text>
<text class="c" x="3827" y="3224.6">_Object_Params</text>
<text x="3752" y="3250.3">+ system_id_<tspan x="3752" dy="14.63">+ type_id_</tspan><tspan x="3752" dy="14.63">+ collocated_</tspan><tspan x="3752" dy="14.63">+ priority_</tspan><tspan x="3752" dy="14.63">+ indirect_</tspan></text>
<text x="3752" y="3334.4">+ set()</text>
</g>

<g id="TAO_Root_POA">
<rect class="box" x="1698" y="3645" width="203" height="1027.8"/>
<path class="sep" d="M1698 3670.6H1901M1698 3974.2H1901"/>
<text class="c" x="1799.5" y="3662">TAO_Root_POA</text>
<text x="1709" y="3687.6">+ caller_key_to_object_<tspan x="1709" dy="14.63">+ servant_for_key_to</tspan><tspan x="1709" dy="14.63">_object_</tspan><tspan x="1709" dy="14.63">+ objectkey_prefix</tspan><tspan x="1709" dy="14.63"># tagged_component_</tspan><tspan x="1709" dy="14.63"># tagged_component_id_</tspan><tspan x="1709" dy="14.63"># folded_name_</tspan><tspan x="1709" dy="14.63"># system_name_</tspan><tspan x="1709" dy="14.63"># id_</tspan><tspan x="1709" dy="14.63"># adapter_state_</tspan><tspan x="1709" dy="14.63"># adapter_activator_</tspan><tspan x="1709" dy="14.63"># cleanup_in_progress_</tspan><tspan x="1709" dy="14.63"># outstanding_requests_</tspan><tspan x="1709" dy="14.63"># outstanding_requests</tspan><tspan x="1709" dy="14.63">_condition_</tspan><tspan x="1709" dy="14.63"># wait_for_completion</tspan><tspan x="1709" dy="14.63">_pending_</tspan><tspan x="1709" dy="14.63"># waiting_destruction_</tspan><tspan x="1709" dy="14.63"># servant_deactivation</tspan><tspan x="1709" dy="14.63">_condition_</tspan></text>
<text x="1709" y="3991.2">+ get_active_object_map()<tspan x="1709" dy="14.63">+ create_POA()</tspan><tspan x="1709" dy="14.63">+ find_POA()</tspan><tspan x="1709" dy="14.63">+ destroy()</tspan><tspan x="1709" dy="14.63">+ create_thread_policy()</tspan><tspan x="1709" dy="14.63">+ create_lifespan_policy()</tspan><tspan x="1709" dy="14.63">+ create_id_uniqueness</tspan><tspan x="1709" dy="14.63">_policy()</tspan><tspan x="1709" dy="14.63">+ create_id_assignment</tspan><tspan x="1709" dy="14.63">_policy()</tspan><tspan x="1709" dy="14.63">+ create_implicit_activation</tspan><tspan x="1709" dy="14.63">_policy()</tspan><tspan x="1709" dy="14.63">+ create_servant_retention</tspan><tspan x="1709" dy="14.63">_policy()</tspan><tspan x="1709" dy="14.63">and 86 more...</tspan><tspan x="1709" dy="14.63">+ name_separator()</tspan><tspan x="1709" dy="14.63">+ name_separator_length()</tspan><tspan x="1709" dy="14.63">+ check_for_valid_wait</tspan><tspan x="1709" dy="14.63">_for_completions()</tspan><tspan x="1709" dy="14.63">+ parse_ir_object_key()</tspan><tspan x="1709" dy="14.63">+ ort_adapter_factory_name()</tspan><tspan x="1709" dy="14.63">+ ort_adapter_factory_name()</tspan><tspan x="1709" dy="14.63">+ imr_client_adapter_name()</tspan><tspan x="1709" dy="14.63">+ imr_client_adapter_name()</tspan><tspan x="1709" dy="14.63"># enter()</tspan><tspan x="1709" dy="14.63"># exit()</tspan><tspan x="1709" dy="14.63"># new_POA()</tspan><tspan x="1709" dy="14.63"># create_POA_i()</tspan><tspan x="1709" dy="14.63"># create_POA_i()</tspan><tspan x="1709" dy="14.63"># find_POA_i()</tspan><tspan x="1709" dy="14.63"># destroy_i()</tspan><tspan x="1709" dy="14.63"># complete_destruction_i()</tspan><tspan x="1709" dy="14.63"># the_children_i()</tspan><tspan x="1709" dy="14.63"># adapter_name_i()</tspan><tspan x="1709" dy="14.63">and 35 more...</tspan><tspan x="1709" dy="14.63"># parse_key()</tspan><tspan x="1709" dy="14.63"># persistent_key_char()</tspan><tspan x="1709" dy="14.63"># transient_key_char()</tspan><tspan x="1709" dy="14.63"># persistent_key_type</tspan><tspan x="1709" dy="14.63">_length()</tspan><tspan x="1709" dy="14.63"># system_id_key_char()</tspan><tspan x="1709" dy="14.63"># user_id_key_char()</tspan><tspan x="1709" dy="14.63"># system_id_key_type</tspan><tspan x="1709" dy="14.63">_length()</tspan><tspan x="1709" dy="14.63"># root_key_char()</tspan><tspan x="1709" dy="14.63"># non_root_key_char()</tspan><tspan x="1709" dy="14.63"># root_key_type_length()</tspan></text>
</g>
</svg>
